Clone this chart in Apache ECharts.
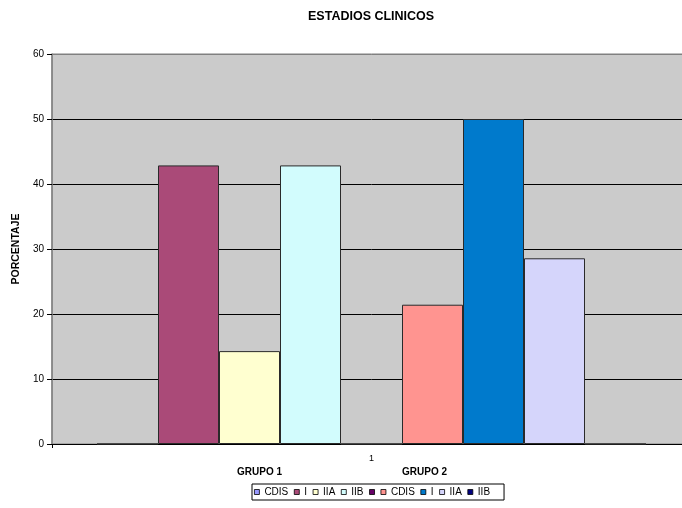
<!DOCTYPE html>
<html>
<head>
<meta charset="utf-8">
<script src="https://cdn.jsdelivr.net/npm/echarts@6/dist/echarts.min.js"></script>
<style>html,body{margin:0;padding:0;background:#fff;overflow:hidden;}#c{width:700px;height:508px;}</style>
</head>
<body>
<div id="c"></div>
<script>
var categories = ['1'];
var seriesNames = ['CDIS', 'I', 'IIA', 'IIB', '', 'CDIS', 'I', 'IIA', 'IIB'];
var seriesValues = [0, 42.86, 14.29, 42.86, 0, 21.43, 50, 28.57, 0];
var seriesColors = ['#9999FF', '#AA4A78', '#FFFFD0', '#D2FCFD', '#660066', '#FF9490', '#007ACC', '#D5D5FB', '#000080'];
var yTicks = [0, 10, 20, 30, 40, 50, 60];
var groupLabels = ['GRUPO 1', 'GRUPO 2'];

var FONT = '"Liberation Sans", Arial, sans-serif';
var chart = echarts.init(document.getElementById('c'), null, {renderer: 'canvas'});

var series = seriesNames.map(function (n, i) {
  return {
    name: n + '_' + i,
    type: 'bar',
    data: [seriesValues[i]],
    barWidth: 61,
    barGap: '0%',
    itemStyle: {color: seriesColors[i], borderColor: '#2a2a2a', borderWidth: 1},
    emphasis: {disabled: true},
    animation: false
  };
});

var option = {
  animation: false,
  textStyle: {fontFamily: FONT},
  title: {
    text: 'ESTADIOS CLINICOS',
    left: 303, top: 5,
    textStyle: {fontFamily: FONT, fontSize: 12.5, fontWeight: 'bold', color: '#000'}
  },
  grid: {left: 52, top: 54, width: 639, height: 390, show: true, backgroundColor: '#cbcbcb', borderColor: '#808080', borderWidth: 1},
  legend: {
    data: series.map(function (s) { return s.name; }),
    formatter: function (name) { return name.replace(/_\d+$/, ''); },
    left: 252, top: 484,
    itemWidth: 5, itemHeight: 5, itemGap: 5.6,
    padding: [3, 14, 3, 2],
    borderColor: '#000', borderWidth: 1, backgroundColor: '#fff',
    icon: 'rect',
    itemStyle: {borderColor: '#000', borderWidth: 0.8},
    selectedMode: false,
    textStyle: {fontFamily: FONT, fontSize: 10, color: '#000'}
  },
  xAxis: {
    type: 'category',
    data: categories,
    axisLine: {lineStyle: {color: '#000', width: 1}},
    axisTick: {show: true, length: 4, lineStyle: {color: '#000'}},
    axisLabel: {fontFamily: FONT, fontSize: 9, color: '#000', margin: 10}
  },
  yAxis: {
    type: 'value',
    min: yTicks[0], max: yTicks[yTicks.length - 1], interval: 10,
    name: 'PORCENTAJE',
    nameLocation: 'middle',
    nameGap: 29,
    nameTextStyle: {fontFamily: FONT, fontSize: 10.5, fontWeight: 'bold', color: '#000'},
    axisLine: {show: true, lineStyle: {color: '#808080', width: 1.5}},
    axisTick: {show: true, length: 5, lineStyle: {color: '#000'}},
    axisLabel: {fontFamily: FONT, fontSize: 10, color: '#000', margin: 8},
    splitLine: {show: true, lineStyle: {color: ['#000', '#000', '#000', '#000', '#000', '#000', '#808080'], width: 1}}
  },
  graphic: [
    {type: 'text', left: 237, top: 467, style: {text: groupLabels[0], font: 'bold 10px ' + FONT, fill: '#000'}},
    {type: 'text', left: 402, top: 467, style: {text: groupLabels[1], font: 'bold 10px ' + FONT, fill: '#000'}}
  ],
  series: series
};
chart.setOption(option);
</script>
</body>
</html>
